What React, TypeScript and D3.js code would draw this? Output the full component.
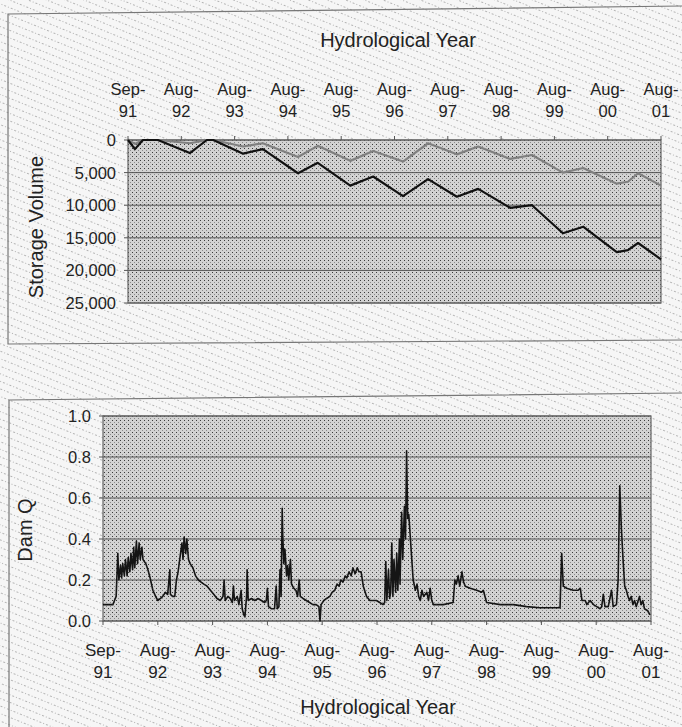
import React from "react";
import * as d3 from "d3";

// ---------- data ----------
const tickTop = ["Sep-", "Aug-", "Aug-", "Aug-", "Aug-", "Aug-", "Aug-", "Aug-", "Aug-", "Aug-", "Aug-"];
const tickBottom = ["91", "92", "93", "94", "95", "96", "97", "98", "99", "00", "01"];
const storageTicks = [0, 5000, 10000, 15000, 20000, 25000];
const damTicks = [0, 0.2, 0.4, 0.6, 0.8, 1.0];

// years since Sep-91 (tick index)
const storageT = [0, 0.13, 0.28, 0.56, 1.16, 1.48, 1.6, 2.16, 2.53, 3.19, 3.56, 4.17, 4.6, 5.16, 5.63, 6.17, 6.57, 7.17, 7.58, 8.16, 8.54, 9.17, 9.38, 9.57, 10];
const storageBlack = [0, 1400, 0, 0, 2000, 0, 0, 2100, 1400, 5100, 3500, 7000, 5600, 8600, 6000, 8700, 7500, 10400, 10000, 14300, 13300, 17200, 16900, 15800, 18300];
const storageGray = [0, 600, 0, 0, 500, 0, 0, 1000, 500, 2600, 900, 3200, 1700, 3300, 500, 2200, 1000, 2900, 2300, 5000, 4300, 6700, 6400, 5100, 7000];

const damT = [
  0.00, 0.18, 0.21, 0.24, 0.27, 0.29, 0.32, 0.34, 0.36, 0.39, 0.41, 0.44, 0.46, 0.49, 0.51, 0.54, 0.56, 0.58, 0.61, 0.63,
  0.66, 0.68, 0.71, 0.73, 0.78, 0.82, 0.86, 0.91, 0.96, 1.00, 1.05, 1.09, 1.14, 1.18, 1.22, 1.23, 1.27, 1.31, 1.34, 1.37,
  1.41, 1.44, 1.46, 1.48, 1.51, 1.53, 1.56, 1.59, 1.64, 1.69, 1.74, 1.79, 1.84, 1.90, 1.96, 2.02, 2.08, 2.14, 2.19, 2.21,
  2.23, 2.28, 2.32, 2.36, 2.38, 2.40, 2.45, 2.48, 2.52, 2.54, 2.57, 2.59, 2.62, 2.63, 2.65, 2.71, 2.77, 2.83, 2.89, 2.95,
  2.98, 3.00, 3.02, 3.07, 3.13, 3.16, 3.18, 3.21, 3.23, 3.25, 3.27, 3.28, 3.30, 3.32, 3.35, 3.37, 3.39, 3.42, 3.44, 3.48,
  3.52, 3.55, 3.58, 3.60, 3.65, 3.71, 3.77, 3.83, 3.89, 3.94, 3.96, 3.98, 4.03, 4.08, 4.14, 4.18, 4.23, 4.27, 4.31, 4.34,
  4.38, 4.42, 4.45, 4.49, 4.53, 4.56, 4.60, 4.64, 4.67, 4.71, 4.75, 4.81, 4.87, 4.99, 5.05, 5.11, 5.14, 5.16, 5.18, 5.21,
  5.23, 5.25, 5.27, 5.29, 5.31, 5.34, 5.36, 5.38, 5.41, 5.42, 5.45, 5.47, 5.50, 5.52, 5.54, 5.56, 5.58, 5.61, 5.63, 5.66,
  5.70, 5.73, 5.76, 5.79, 5.82, 5.85, 5.91, 5.94, 5.97, 6.00, 6.03, 6.21, 6.39, 6.42, 6.45, 6.48, 6.51, 6.55, 6.58, 6.61,
  6.70, 6.82, 6.91, 6.94, 7.00, 7.25, 7.49, 7.73, 7.97, 8.34, 8.37, 8.40, 8.46, 8.58, 8.67, 8.71, 8.74, 8.80, 8.83, 8.89,
  8.95, 9.01, 9.07, 9.10, 9.13, 9.16, 9.22, 9.28, 9.31, 9.37, 9.40, 9.43, 9.46, 9.49, 9.52, 9.55, 9.58, 9.61, 9.64, 9.67,
  9.70, 9.73, 9.79, 9.82, 9.85, 9.88, 9.94, 9.98,
];
const damQ = [
  0.08, 0.08, 0.10, 0.12, 0.33, 0.20, 0.27, 0.21, 0.28, 0.22, 0.30, 0.22, 0.31, 0.24, 0.33, 0.25, 0.36, 0.26, 0.39, 0.28,
  0.38, 0.30, 0.36, 0.30, 0.28, 0.25, 0.21, 0.15, 0.12, 0.10, 0.11, 0.12, 0.14, 0.13, 0.25, 0.13, 0.12, 0.12, 0.20, 0.24,
  0.32, 0.38, 0.30, 0.41, 0.33, 0.40, 0.30, 0.28, 0.26, 0.22, 0.20, 0.19, 0.18, 0.17, 0.15, 0.13, 0.11, 0.10, 0.12, 0.20,
  0.10, 0.12, 0.11, 0.09, 0.17, 0.10, 0.12, 0.08, 0.15, 0.06, 0.03, 0.02, 0.12, 0.25, 0.10, 0.11, 0.10, 0.11, 0.10, 0.09,
  0.10, 0.16, 0.07, 0.06, 0.06, 0.17, 0.06, 0.07, 0.25, 0.12, 0.55, 0.42, 0.28, 0.35, 0.22, 0.27, 0.20, 0.30, 0.18, 0.16,
  0.15, 0.12, 0.20, 0.12, 0.11, 0.10, 0.09, 0.08, 0.08, 0.07, 0.00, 0.08, 0.10, 0.11, 0.12, 0.14, 0.15, 0.18, 0.17, 0.20,
  0.19, 0.22, 0.21, 0.24, 0.22, 0.26, 0.23, 0.26, 0.24, 0.24, 0.17, 0.12, 0.10, 0.10, 0.09, 0.08, 0.09, 0.29, 0.10, 0.25,
  0.11, 0.14, 0.38, 0.12, 0.30, 0.14, 0.33, 0.15, 0.40, 0.18, 0.53, 0.30, 0.56, 0.40, 0.83, 0.50, 0.52, 0.40, 0.32, 0.20,
  0.15, 0.18, 0.12, 0.10, 0.15, 0.12, 0.14, 0.10, 0.16, 0.10, 0.08, 0.08, 0.09, 0.20, 0.18, 0.22, 0.17, 0.24, 0.19, 0.17,
  0.16, 0.15, 0.14, 0.15, 0.09, 0.08, 0.08, 0.07, 0.065, 0.065, 0.33, 0.17, 0.16, 0.15, 0.15, 0.16, 0.10, 0.10, 0.08, 0.10,
  0.08, 0.07, 0.06, 0.07, 0.13, 0.07, 0.07, 0.15, 0.07, 0.08, 0.20, 0.66, 0.45, 0.30, 0.17, 0.15, 0.12, 0.10, 0.12, 0.08,
  0.10, 0.07, 0.12, 0.08, 0.10, 0.06, 0.05, 0.03,
];

const FONT = "'Liberation Sans', Arial, sans-serif";

export default function App() {
  const xTop = d3.scaleLinear().domain([0, 10]).range([128, 661]);
  const yTop = d3.scaleLinear().domain([0, 25000]).range([140, 303]);
  const xBot = d3.scaleLinear().domain([0, 10]).range([103, 651]);
  const yBot = d3.scaleLinear().domain([0, 1]).range([621, 416]);

  const storageLine = (vals: number[]) =>
    d3
      .line<number>()
      .x((_, i) => xTop(storageT[i]))
      .y((v) => yTop(v))
      .curve(d3.curveLinear)(vals) || "";

  const damLine =
    d3
      .line<number>()
      .x((_, i) => xBot(damT[i]))
      .y((v) => yBot(v))(damQ) || "";

  const idx = d3.range(tickTop.length);
  const fmt = d3.format(",");

  return (
    <svg width={682} height={727} style={{ position: "absolute", left: 0, top: 0 }} fontFamily={FONT}>
      <defs>
        <pattern id="bg" width={7} height={7} patternUnits="userSpaceOnUse" patternTransform="rotate(22)">
          <rect width={7} height={7} fill="#f6f6f6" />
          <line x1={0} y1={3.5} x2={7} y2={3.5} stroke="#b4b4b4" strokeWidth={1} strokeDasharray="1 2" />
        </pattern>
        <pattern id="plot" width={4} height={4} patternUnits="userSpaceOnUse">
          <rect width={4} height={4} fill="#d2d2d2" />
          <rect x={0} y={0} width={1} height={1} fill="#3a3a3a" />
          <rect x={2} y={2} width={1} height={1} fill="#8a8a8a" />
        </pattern>
      </defs>
      <rect width={682} height={727} fill="url(#bg)" />

      {/* frames */}
      <path d="M682,6 L8,14 L8,344 L682,340" fill="none" stroke="#777" strokeWidth={1.2} />
      <path d="M682,393 L9,400 L9,727" fill="none" stroke="#777" strokeWidth={1.2} />

      {/* ---------- top chart ---------- */}
      <rect x={128} y={140} width={533} height={163} fill="url(#plot)" />
      {storageTicks.map((v) => (
        <line key={"gt" + v} x1={128} x2={661} y1={yTop(v)} y2={yTop(v)} stroke="#555" strokeWidth={1} />
      ))}
      <rect x={128} y={140} width={533} height={163} fill="none" stroke="#666" strokeWidth={1.2} />
      {idx.map((i) => (
        <line key={"tt" + i} x1={xTop(i)} x2={xTop(i)} y1={140} y2={136} stroke="#555" />
      ))}
      {storageTicks.map((v) => (
        <line key={"yt" + v} x1={124} x2={128} y1={yTop(v)} y2={yTop(v)} stroke="#555" />
      ))}
      <path d={storageLine(storageGray)} fill="none" stroke="#808080" strokeWidth={2.2} strokeLinejoin="round" />
      <path d={storageLine(storageBlack)} fill="none" stroke="#111" strokeWidth={2.2} strokeLinejoin="round" />
      {storageTicks.map((v) => (
        <text key={"yl" + v} x={116} y={yTop(v) + 6} textAnchor="end" fontSize={16.5} fill="#222">
          {fmt(v)}
        </text>
      ))}
      {idx.map((i) => (
        <g key={"xl" + i} fontSize={16.5} fill="#222" textAnchor="middle">
          <text x={xTop(i)} y={95}>{tickTop[i]}</text>
          <text x={xTop(i)} y={117}>{tickBottom[i]}</text>
        </g>
      ))}
      <text x={398} y={47} textAnchor="middle" fontSize={20} fill="#222">
        Hydrological Year
      </text>
      <text transform="translate(43,227) rotate(-90)" textAnchor="middle" fontSize={20} fill="#222">
        Storage Volume
      </text>

      {/* ---------- bottom chart ---------- */}
      <rect x={103} y={416} width={548} height={205} fill="url(#plot)" />
      {damTicks.map((v) => (
        <line key={"gb" + v} x1={103} x2={651} y1={yBot(v)} y2={yBot(v)} stroke="#555" strokeWidth={1} />
      ))}
      <rect x={103} y={416} width={548} height={205} fill="none" stroke="#666" strokeWidth={1.2} />
      {idx.map((i) => (
        <line key={"bt" + i} x1={xBot(i)} x2={xBot(i)} y1={621} y2={625} stroke="#555" />
      ))}
      {damTicks.map((v) => (
        <line key={"by" + v} x1={99} x2={103} y1={yBot(v)} y2={yBot(v)} stroke="#555" />
      ))}
      <path d={damLine} fill="none" stroke="#151515" strokeWidth={1.6} strokeLinejoin="round" />
      {damTicks.map((v) => (
        <text key={"bl" + v} x={91} y={yBot(v) + 6} textAnchor="end" fontSize={16.5} fill="#222">
          {v.toFixed(1)}
        </text>
      ))}
      {idx.map((i) => (
        <g key={"bx" + i} fontSize={17} fill="#222" textAnchor="middle">
          <text x={xBot(i)} y={656}>{tickTop[i]}</text>
          <text x={xBot(i)} y={678}>{tickBottom[i]}</text>
        </g>
      ))}
      <text x={378} y={714} textAnchor="middle" fontSize={20} fill="#222">
        Hydrological Year
      </text>
      <text transform="translate(32,530) rotate(-90)" textAnchor="middle" fontSize={20} fill="#222">
        Dam Q
      </text>
    </svg>
  );
}
